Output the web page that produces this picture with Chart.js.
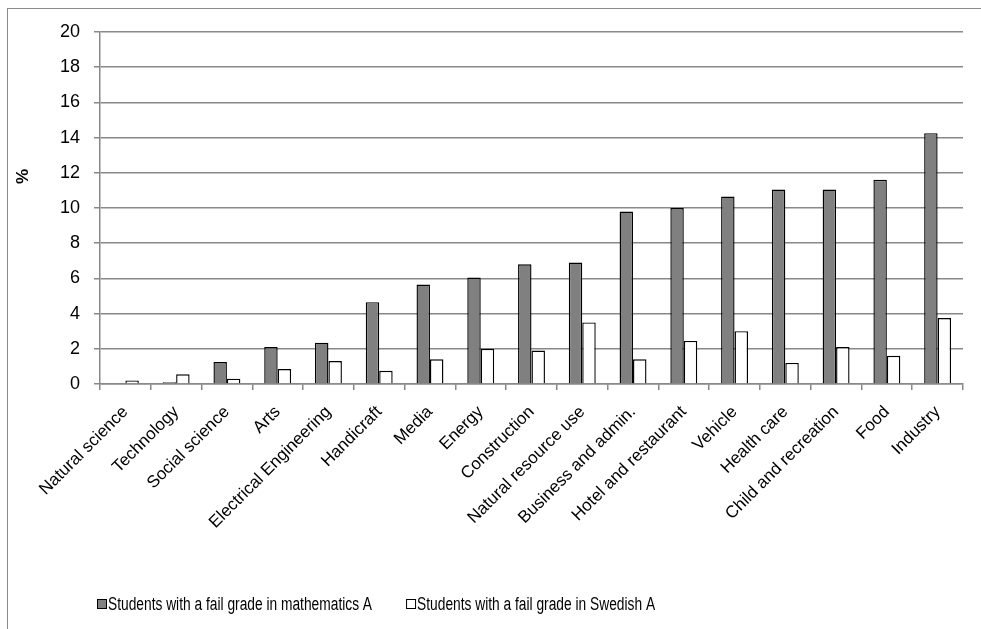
<!DOCTYPE html>
<html>
<head>
<meta charset="utf-8">
<script src="https://cdn.jsdelivr.net/npm/chart.js@4.4.0/dist/chart.umd.min.js"></script>
<style>
	body { margin: 0; background: #fff; overflow: hidden; }
	#frame { position: absolute; left: 7px; top: 8px; width: 1100px; height: 800px; border: 1px solid #8c8c8c; }
	#wrap { position: absolute; left: 0; top: 0; width: 981px; height: 629px; }
</style>
</head>
<body>
<div id="frame"></div>
<div id="wrap"><canvas id="chart" width="981" height="629"></canvas></div>
<script>
const categories = ["Natural science", "Technology", "Social science", "Arts", "Electrical Engineering",
	"Handicraft", "Media", "Energy", "Construction", "Natural resource use", "Business and admin.",
	"Hotel and restaurant", "Vehicle", "Health care", "Child and recreation", "Food", "Industry"];
const mathFail = [0, 0.1, 1.25, 2.1, 2.35, 4.65, 5.65, 6.05, 6.8, 6.9, 9.8, 10.0, 10.65, 11.05, 11.05, 11.6, 14.25];
const swedishFail = [0.2, 0.55, 0.3, 0.85, 1.3, 0.75, 1.4, 2.0, 1.9, 3.5, 1.4, 2.45, 3.0, 1.2, 2.1, 1.6, 3.75];
const yTicks = [0, 2, 4, 6, 8, 10, 12, 14, 16, 18, 20];
const yTitle = "%";

const font = "Arial, 'Liberation Sans', sans-serif";

// y title sits above the middle like in the original, legend drawn narrow at the bottom left
const extras = {
	id: "extras",
	afterDraw: function(chart) {
		const c = chart.ctx;
		const area = chart.chartArea;
		c.save();
		c.fillStyle = "#000";
		c.font = "bold 17px " + font;
		c.textAlign = "center";
		c.textBaseline = "middle";
		c.translate(23, area.top + (area.bottom - area.top) * 0.41);
		c.rotate(-Math.PI / 2);
		c.fillText(yTitle, 0, 0);
		c.restore();

		c.save();
		c.font = "18px " + font;
		c.textBaseline = "middle";
		const squeeze = 0.765;
		let x = area.left - 3;
		const y = 605;
		chart.data.datasets.forEach(function(ds) {
			c.fillStyle = ds.backgroundColor;
			c.fillRect(x + 0.5, y - 5.5, 9, 9);
			c.strokeStyle = "#000";
			c.lineWidth = 1;
			c.strokeRect(x + 0.5, y - 5.5, 9, 9);
			c.fillStyle = "#000";
			const tx = x + 11;
			const w = c.measureText(ds.label).width * squeeze;
			c.save();
			c.translate(tx, y);
			c.scale(squeeze, 1);
			c.fillText(ds.label, 0, 0);
			c.restore();
			x = tx + w + 34;
		});
		c.restore();
	}
};

const ctx = document.getElementById("chart").getContext("2d");
new Chart(ctx, {
	type: "bar",
	data: {
		labels: categories,
		datasets: [
			{
				label: "Students with a fail grade in mathematics A",
				data: mathFail,
				backgroundColor: "#808080",
				borderColor: "#000",
				borderWidth: 1.4,
				categoryPercentage: 0.53,
				barPercentage: 1
			},
			{
				label: "Students with a fail grade in Swedish A",
				data: swedishFail,
				backgroundColor: "#fff",
				borderColor: "#000",
				borderWidth: 1.4,
				categoryPercentage: 0.53,
				barPercentage: 1
			}
		]
	},
	plugins: [extras],
	options: {
		responsive: false,
		animation: false,
		layout: { padding: { top: 32, right: 18, left: 0, bottom: 45 } },
		plugins: {
			legend: { display: false },
			tooltip: { enabled: false }
		},
		scales: {
			x: {
				grid: { offset: true, drawOnChartArea: false, drawTicks: true, tickLength: 6, color: "#888", lineWidth: 1.5 },
				border: { color: "#888", width: 1.5 },
				ticks: { color: "#000", font: { family: font, size: 17 }, maxRotation: 45, minRotation: 45, autoSkip: false, padding: 12 },
				afterFit: function(s) { s.height = 200; }
			},
			y: {
				min: 0,
				max: 20,
				afterBuildTicks: function(s) { s.ticks = yTicks.map(v => ({ value: v })); },
				grid: { color: "#888", lineWidth: 1.5, tickLength: 6 },
				border: { color: "#888", width: 1.5 },
				ticks: { color: "#000", font: { family: font, size: 18 }, padding: 14 },
				afterFit: function(s) { s.width = 100; }
			}
		}
	}
});
</script>
</body>
</html>
